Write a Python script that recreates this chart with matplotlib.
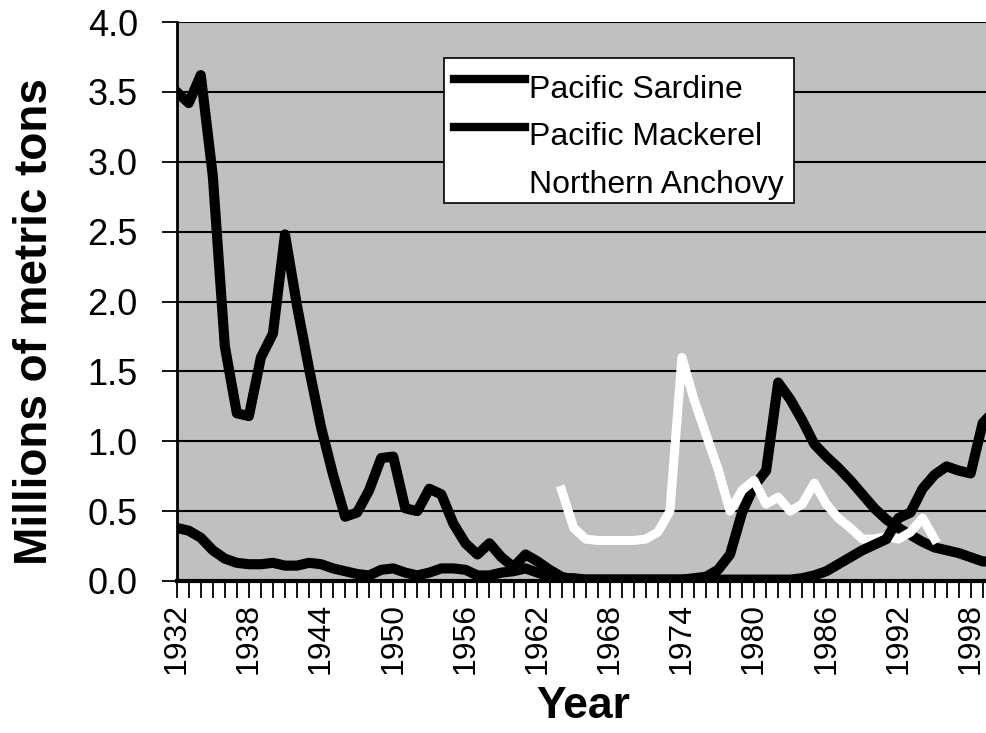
import numpy as np
import matplotlib
matplotlib.use("Agg")
import matplotlib.pyplot as plt
from matplotlib.ticker import FixedLocator

plt.rcParams['font.family'] = ['Liberation Sans', 'DejaVu Sans']

years = list(range(1932, 2001))

# Pacific sardine, millions of metric tons
sardine = [3.50, 3.42, 3.62, 2.90, 1.68, 1.20, 1.18, 1.60, 1.77, 2.48,   # 1932-41
           1.97, 1.52, 1.10, 0.76, 0.46, 0.49, 0.65, 0.88, 0.89, 0.52,   # 1942-51
           0.50, 0.66, 0.62, 0.41, 0.27, 0.19, 0.27, 0.17, 0.10, 0.19,   # 1952-61
           0.14, 0.08, 0.03, 0.01, 0.01, 0.01, 0.01, 0.01, 0.01, 0.01,   # 1962-71
           0.01, 0.01, 0.01, 0.01, 0.01, 0.01, 0.01, 0.01, 0.01, 0.01,   # 1972-81
           0.01, 0.01, 0.02, 0.04, 0.07, 0.12, 0.17, 0.22, 0.26, 0.30,   # 1982-91
           0.45, 0.49, 0.66, 0.76, 0.82, 0.79, 0.77, 1.13, 1.22]         # 1992-2000

# Pacific mackerel
mackerel = [0.38, 0.36, 0.31, 0.22, 0.16, 0.13, 0.12, 0.12, 0.13, 0.11,
            0.11, 0.13, 0.12, 0.09, 0.07, 0.05, 0.04, 0.08, 0.09, 0.06,
            0.04, 0.06, 0.09, 0.09, 0.08, 0.04, 0.04, 0.06, 0.07, 0.09,
            0.06, 0.03, 0.02, 0.02, 0.01, 0.01, 0.01, 0.01, 0.01, 0.01,
            0.01, 0.01, 0.01, 0.02, 0.03, 0.08, 0.19, 0.49, 0.68, 0.79,
            1.42, 1.30, 1.15, 0.98, 0.89, 0.81, 0.72, 0.62, 0.52, 0.44,
            0.38, 0.33, 0.28, 0.24, 0.22, 0.20, 0.17, 0.14, 0.14]

# Northern anchovy (1964-1995)
anchovy_years = list(range(1964, 1996))
anchovy = [0.65, 0.38, 0.30, 0.29, 0.29, 0.29, 0.29, 0.30, 0.35, 0.50,
           1.60, 1.30, 1.05, 0.80, 0.50, 0.65, 0.72, 0.55, 0.60, 0.50,
           0.55, 0.70, 0.55, 0.45, 0.38, 0.30, 0.30, 0.32, 0.30, 0.35,
           0.45, 0.30]

yticks = [0.0, 0.5, 1.0, 1.5, 2.0, 2.5, 3.0, 3.5, 4.0]
label_years = list(range(1932, 2001, 6))

W, H = 987, 733
fig = plt.figure(figsize=(W / 100, H / 100), dpi=100)
ax_l, ax_b, ax_w, ax_h = 176.7, 152, 818, 559
ax = fig.add_axes([ax_l / W, ax_b / H, ax_w / W, ax_h / H])
ax.set_facecolor('#c0c0c0')

ax.set_xlim(1932, 2000)
ax.set_ylim(0, 4.0)

ax.plot(years, mackerel, color='black', lw=7.3, solid_joinstyle='round',
        label='Pacific Mackerel', zorder=3)
ax.plot(anchovy_years, anchovy, color='white', lw=6.5, solid_joinstyle='round',
        label='Northern Anchovy', zorder=4)
ax.plot(years, sardine, color='black', lw=7.3, solid_joinstyle='round',
        label='Pacific Sardine', zorder=5)

# horizontal gridlines at every 0.5
ax.yaxis.set_major_locator(FixedLocator(yticks))
ax.set_yticklabels([f'{v:.1f}' for v in yticks])
ax.grid(axis='y', color='black', lw=1.5, zorder=1)
ax.set_axisbelow(True)

# a tick for every year, a label every sixth year
ax.xaxis.set_major_locator(FixedLocator(years))
ax.set_xticklabels([str(y) if y in label_years else '' for y in years],
                   rotation=90)

ax.tick_params(axis='y', direction='out', length=11, width=1.3,
               labelsize=26, pad=17, colors='black')
ax.tick_params(axis='x', direction='out', length=12, width=1.3,
               labelsize=23, pad=4, colors='black')

for s in ['top', 'right']:
    ax.spines[s].set_visible(False)
ax.spines['left'].set_linewidth(2)
ax.spines['bottom'].set_linewidth(3)

ax.set_ylabel('Millions of metric tons', fontsize=33, fontweight='bold')
ax.yaxis.set_label_coords((57 - ax_l) / ax_w, (581 - 322) / ax_h)
ax.set_xlabel('Year', fontsize=32, fontweight='bold')
ax.xaxis.set_label_coords((583 - ax_l) / ax_w, (581 - 686) / ax_h)

handles, labels = ax.get_legend_handles_labels()
order = [labels.index('Pacific Sardine'), labels.index('Pacific Mackerel'),
         labels.index('Northern Anchovy')]
leg = ax.legend([handles[i] for i in order], [labels[i] for i in order],
                loc='upper left',
                bbox_to_anchor=((444 - ax_l) / ax_w, 1 - (58 - 22) / ax_h),
                fontsize=23, frameon=True, fancybox=False, framealpha=1,
                edgecolor='black', facecolor='white', handlelength=2.22,
                handletextpad=0.15, borderpad=0.3, labelspacing=0.56,
                borderaxespad=0)
leg.get_frame().set_linewidth(1.2)
leg.set_zorder(10)
# labels sit a little low in their rows, keys level with the top of the labels
for t in leg.get_texts():
    t.set_position((0, -7))
for ln in leg.get_lines():
    ln.set_linewidth(6)

fig.savefig('out.png', dpi=100)
